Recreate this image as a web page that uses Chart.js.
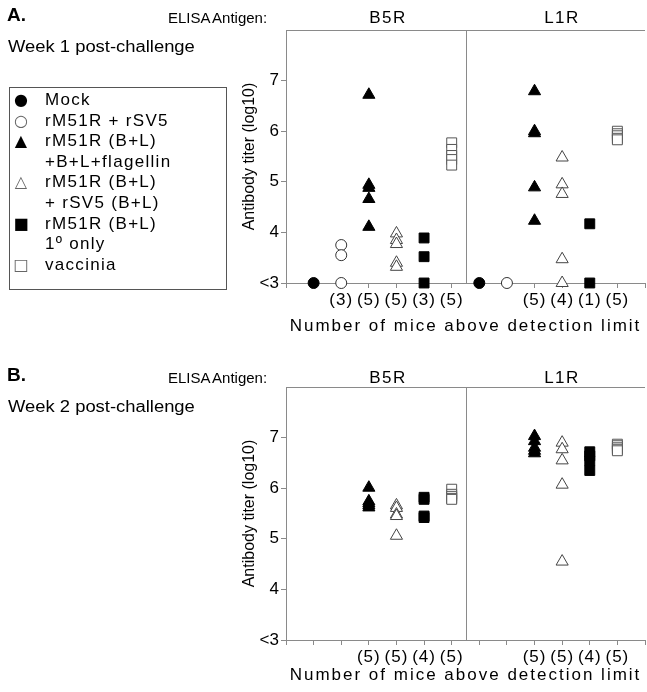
<!DOCTYPE html>
<html>
<head>
<meta charset="utf-8">
<script src="https://cdn.jsdelivr.net/npm/chart.js@4.4.1/dist/chart.umd.min.js"></script>
<style>
  body { margin: 0; width: 647px; height: 692px; position: relative; overflow: hidden; background: #fff;
         font-family: "Liberation Sans", Arial, sans-serif; color: #000; }
  .panel { position: absolute; left: 0; width: 647px; }
  .panel canvas { position: absolute; left: 0; top: 0; }
  .txt { position: absolute; white-space: nowrap; line-height: 1; }
  .letter { font-weight: bold; font-size: 19px; left: 7px; top: 5px; }
  .elisa { font-size: 15px; left: 168px; top: 10px; word-spacing: -1px; }
  .antigen { font-size: 17px; letter-spacing: 1.5px; top: 9px; transform: translateX(-50%); }
  .week { font-size: 16px; left: 8px; top: 39px; transform: scaleX(1.15); transform-origin: left center; }
  #legend { position: absolute; left: 9px; top: 87px; width: 218px; height: 203px; border: 1px solid #555;
            font-size: 17px; letter-spacing: 1.3px; line-height: 20.6px; padding-top: 2px; box-sizing: border-box; }
  #legend .row { position: relative; padding-left: 35px; white-space: nowrap; }
  #legend .mk { position: absolute; left: 2px; width: 18px; text-align: center; font-family: "DejaVu Sans"; font-size: 16px; letter-spacing: 0; }
</style>
</head>
<body>
<script>
// groups (x = 1..6 under B5R, 7..12 under L1R)
const groups = ['Mock', 'rM51R + rSV5', 'rM51R (B+L)\n+B+L+flagellin', 'rM51R (B+L)\n+ rSV5 (B+L)', 'rM51R (B+L)\n1\u00ba only', 'vaccinia'];
const antigens = ['B5R', 'L1R'];
const b5rPos = [1, 2, 3, 4, 5, 6];
const l1rPos = [7, 8, 9, 10, 11, 12];
const yTickLabels = ['<3', '4', '5', '6', '7'];

// week 1, antibody titer (log10), 3 = below detection
const week1B5R = [[3.0], [3.75, 3.55, 3.0], [6.72, 4.94, 4.88, 4.66, 4.11], [3.98, 3.85, 3.77, 3.40, 3.32], [3.89, 3.52, 3.0], [5.77, 5.64, 5.52, 5.44, 5.33]];
const week1L1R = [[3.0], [3.0], [6.79, 6.0, 5.96, 4.89, 4.23], [5.48, 4.95, 4.76, 3.47, 3.0], [4.17, 3.0], [6.0, 5.95, 5.91, 5.86, 5.83]];
const week1Counts = ['', '', '(3)', '(5)', '(5)', '(3)', '(5)', '', '', '(5)', '(4)', '(1)', '(5)', ''];

// week 2
const week2B5R = [[], [], [6.01, 5.74, 5.70, 5.66, 5.62], [5.66, 5.61, 5.48, 5.45, 5.06], [5.82, 5.78, 5.45, 5.42], [5.98, 5.88, 5.84, 5.80, 5.78]];
const week2L1R = [[], [], [7.03, 6.93, 6.80, 6.74, 6.69], [6.90, 6.77, 6.55, 6.07, 4.55], [6.72, 6.64, 6.54, 6.35], [6.87, 6.84, 6.80, 6.77, 6.74]];
const week2Counts = ['', '', '', '(5)', '(5)', '(4)', '(5)', '', '', '(5)', '(5)', '(4)', '(5)', ''];

const markers = [
    { glyph: '\u25CF', color: '#000', pointStyle: 'circle', pointRadius: 5.5, pointBackgroundColor: '#000', pointBorderColor: '#000' },
    { glyph: '\u25CB', color: '#666', pointStyle: 'circle', pointRadius: 5.5, pointBackgroundColor: '#fff', pointBorderColor: '#333' },
    { glyph: '\u25B2', color: '#000', pointStyle: 'triangle', pointRadius: 7, pointBackgroundColor: '#000', pointBorderColor: '#000' },
    { glyph: '\u25B3', color: '#666', pointStyle: 'triangle', pointRadius: 7, pointBackgroundColor: '#fff', pointBorderColor: '#444' },
    { glyph: '\u25A0', color: '#000', pointStyle: 'rect', pointRadius: 7, pointBackgroundColor: '#000', pointBorderColor: '#000' },
    { glyph: '\u25A1', color: '#666', pointStyle: 'rect', pointRadius: 7, pointBackgroundColor: '#fff', pointBorderColor: '#555' }
];

// x axis that draws its labels / title letter-spaced like the figure
class SpacedScale extends Chart.LinearScale {
    draw(area) {
        const ctx = this.ctx;
        this.drawBackground();
        this.drawGrid(area);
        this.drawBorder();
        ctx.save(); ctx.letterSpacing = '2px'; this.drawTitle(); ctx.restore();
        ctx.save(); ctx.letterSpacing = '1px'; this.drawLabels(area); ctx.restore();
    }
}
SpacedScale.id = 'spaced';
SpacedScale.defaults = Chart.LinearScale.defaults;
Chart.register(SpacedScale);

// top line of the box and the B5R | L1R divider
const framePlugin = {
    id: 'frame',
    beforeDatasetsDraw(chart) {
        const { ctx, chartArea, scales } = chart;
        const xd = Math.round(scales.x.getPixelForValue(6.5)) + 0.5;
        ctx.save();
        ctx.strokeStyle = '#8a8a8a';
        ctx.lineWidth = 1;
        ctx.beginPath();
        ctx.moveTo(chartArea.left, chartArea.top + 0.5);
        ctx.lineTo(chartArea.right, chartArea.top + 0.5);
        ctx.moveTo(xd, chartArea.top);
        ctx.lineTo(xd, chartArea.bottom);
        ctx.stroke();
        ctx.restore();
    }
};

function buildDatasets(b5r, l1r) {
    return groups.map((name, g) => ({
        label: name.replace('\n', ' '),
        data: b5r[g].map(v => ({ x: b5rPos[g], y: v })).concat(l1r[g].map(v => ({ x: l1rPos[g], y: v }))),
        pointStyle: markers[g].pointStyle,
        pointRadius: markers[g].pointRadius,
        pointBackgroundColor: markers[g].pointBackgroundColor,
        pointBorderColor: markers[g].pointBorderColor,
        pointBorderWidth: 1,
        showLine: false,
        clip: false
    }));
}

function panelChart(canvas, datasets, counts, opt) {
    return new Chart(canvas.getContext('2d'), {
        type: 'scatter',
        data: { datasets: datasets },
        options: {
            responsive: false,
            animation: false,
            events: [],
            // no automatic room for the markers: the box runs to the right edge
            layout: { autoPadding: false, padding: { top: 30, left: 236, right: 0, bottom: 0 } },
            plugins: { legend: { display: false }, tooltip: { enabled: false } },
            scales: {
                x: {
                    type: 'spaced',
                    min: 0, max: 13,
                    afterFit: s => { s.height = opt.xHeight; },
                    ticks: {
                        stepSize: 1, autoSkip: false, maxRotation: 0, padding: 2,
                        color: '#000', font: { family: 'Liberation Sans', size: 17 },
                        callback: v => counts[v] || ''
                    },
                    grid: { drawOnChartArea: false, drawTicks: true, tickLength: 5, color: '#8a8a8a' },
                    border: { color: '#8a8a8a' },
                    title: {
                        display: true, text: 'Number of mice above detection limit', color: '#000',
                        font: { family: 'Liberation Sans', size: 17 }, padding: { top: 0, bottom: opt.titlePad }
                    }
                },
                y: {
                    min: 3, max: 8,
                    afterFit: s => { s.width = 50; },
                    afterBuildTicks: s => { s.ticks = s.ticks.filter(t => t.value <= 7); },
                    ticks: {
                        stepSize: 1, padding: 2, color: '#000',
                        font: { family: 'Liberation Sans', size: 17 },
                        callback: v => yTickLabels[v - 3]
                    },
                    grid: { drawOnChartArea: false, drawTicks: true, tickLength: 5, color: '#8a8a8a' },
                    border: { color: '#8a8a8a' },
                    title: {
                        display: true, text: 'Antibody titer (log10)', color: '#000',
                        font: { family: 'Liberation Sans', size: 16 }, padding: { top: 4, bottom: 0 }
                    }
                }
            }
        },
        plugins: [framePlugin]
    });
}

function addPanel(top, height, letter, week, b5r, l1r, counts, opt, withLegend) {
    const panel = document.createElement('div');
    panel.className = 'panel';
    panel.style.top = top + 'px';
    panel.style.height = height + 'px';
    const canvas = document.createElement('canvas');
    canvas.width = 647;
    canvas.height = height;
    panel.appendChild(canvas);
    const add = (cls, text, left) => {
        const d = document.createElement('div');
        d.className = 'txt ' + cls;
        d.textContent = text;
        if (left !== undefined) d.style.left = left + 'px';
        d.style.marginTop = opt.headShift + 'px';
        panel.appendChild(d);
    };
    add('letter', letter);
    add('elisa', 'ELISA Antigen:');
    add('antigen', antigens[0], 388);
    add('antigen', antigens[1], 562);
    add('week', week);
    document.body.appendChild(panel);
    if (withLegend) {
        const lg = document.createElement('div');
        lg.id = 'legend';
        groups.forEach((name, g) => {
            name.split('\n').forEach((line, i) => {
                const row = document.createElement('div');
                row.className = 'row';
                if (i === 0) {
                    const mk = document.createElement('span');
                    mk.className = 'mk';
                    mk.style.color = markers[g].color;
                    mk.textContent = markers[g].glyph;
                    row.appendChild(mk);
                }
                row.appendChild(document.createTextNode(line));
                lg.appendChild(row);
            });
        });
        panel.appendChild(lg);
    }
    panelChart(canvas, buildDatasets(b5r, l1r), counts, opt);
}

addPanel(0, 340, 'A.', 'Week 1 post-challenge', week1B5R, week1L1R, week1Counts, { xHeight: 57, titlePad: 3, headShift: 0 }, true);
addPanel(357, 335, 'B.', 'Week 2 post-challenge', week2B5R, week2L1R, week2Counts, { xHeight: 52, titlePad: 6, headShift: 3 }, false);
</script>
</body>
</html>
